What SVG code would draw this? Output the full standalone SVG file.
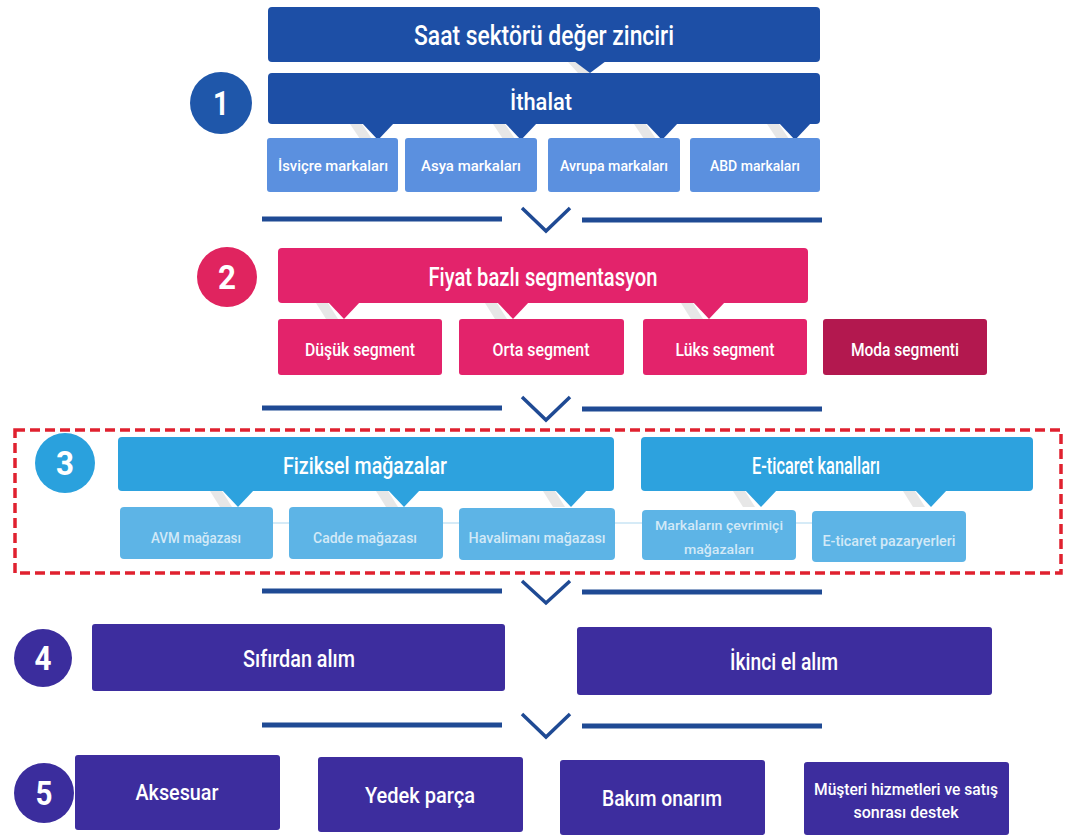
<svg xmlns="http://www.w3.org/2000/svg" width="1065" height="838" viewBox="0 0 1065 838">
<defs>
<style>
text{font-family:"Roboto","Liberation Sans",sans-serif;fill:#fff;text-anchor:middle;font-weight:500}
.navy{fill:#1d4fa6}
.b1{fill:#5b90df}
.pink{fill:#e3236b}
.moda{fill:#b3184f}
.lb{fill:#2da2de}
.lb2{fill:#5db4e6}
.ind{fill:#3d2d9e}
.sh{fill:#b9b9b9;opacity:.35}
.sep{stroke:#1f4a94;stroke-width:5;fill:none}
.chev{stroke:#1f4a94;stroke-width:3.5;fill:none}
.num{font-size:34px;font-weight:700}
.faint{fill:#d2e9f7}
</style>
</defs>
<rect width="1065" height="838" fill="#fff"/>

<g id="connectors">
<path class="sh" d="M568 62 L580 62 L590 73 L578 73 Z"/>
<polygon class="navy" points="574,61 606,61 590,73"/>
<path class="sh" d="M350 124 L362 124 L372 139 L360 139 Z"/>
<polygon class="navy" points="362,123 394,123 378,140"/>
<path class="sh" d="M493 124 L505 124 L515 139 L503 139 Z"/>
<polygon class="navy" points="505,123 537,123 521,140"/>
<path class="sh" d="M634 124 L646 124 L656 139 L644 139 Z"/>
<polygon class="navy" points="646,123 678,123 662,140"/>
<path class="sh" d="M767 124 L779 124 L789 139 L777 139 Z"/>
<polygon class="navy" points="779,123 811,123 795,140"/>
<path class="sh" d="M316 303 L328 303 L338 319 L326 319 Z"/>
<polygon class="pink" points="328,302 360,302 344,319"/>
<path class="sh" d="M485 303 L497 303 L507 319 L495 319 Z"/>
<polygon class="pink" points="497,302 529,302 513,319"/>
<path class="sh" d="M681 303 L693 303 L703 319 L691 319 Z"/>
<polygon class="pink" points="693,302 725,302 709,319"/>
<path class="sh" d="M210 491 L222 491 L232 507 L220 507 Z"/>
<polygon class="lb" points="222,490 254,490 238,507"/>
<path class="sh" d="M376 491 L388 491 L398 507 L386 507 Z"/>
<polygon class="lb" points="388,490 420,490 404,507"/>
<path class="sh" d="M543 491 L555 491 L565 507 L553 507 Z"/>
<polygon class="lb" points="555,490 587,490 571,507"/>
<path class="sh" d="M733 491 L745 491 L755 507 L743 507 Z"/>
<polygon class="lb" points="745,490 777,490 761,507"/>
<path class="sh" d="M903 491 L915 491 L925 507 L913 507 Z"/>
<polygon class="lb" points="915,490 947,490 931,507"/>
<line x1="122" y1="523" x2="965" y2="523" stroke="#c9e4f4" stroke-width="1.5"/>
<line class="sep" x1="262" y1="219" x2="502" y2="219"/>
<polyline class="chev" points="522,208 546,231 570,208"/>
<line class="sep" x1="582" y1="220" x2="822" y2="220"/>
<line class="sep" x1="262" y1="408" x2="502" y2="408"/>
<polyline class="chev" points="522,397 546,420 570,397"/>
<line class="sep" x1="582" y1="409" x2="822" y2="409"/>
<line class="sep" x1="262" y1="591" x2="502" y2="591"/>
<polyline class="chev" points="522,581 546,603 570,581"/>
<line class="sep" x1="582" y1="592" x2="822" y2="592"/>
<line class="sep" x1="262" y1="725" x2="502" y2="725"/>
<polyline class="chev" points="522,714 546,737 570,714"/>
<line class="sep" x1="582" y1="726" x2="822" y2="726"/>
</g>

<g id="header"><rect class="navy" x="268" y="7" width="552" height="55" rx="4"/><text x="544" y="45" font-size="28" textLength="260" lengthAdjust="spacingAndGlyphs">Saat sektörü değer zinciri</text></g>

<g id="step1"><circle cx="221" cy="103" r="31" fill="#1f57aa"/><text class="num" x="221" y="115" textLength="16" lengthAdjust="spacingAndGlyphs">1</text></g>
<g id="ithalat"><rect class="navy" x="268" y="73" width="552" height="51" rx="4"/><text x="541" y="110" font-size="24" textLength="62" lengthAdjust="spacingAndGlyphs">İthalat</text></g>
<g id="isvicre"><rect class="b1" x="267" y="138" width="131" height="54" rx="3"/><text x="333" y="171" font-size="15" textLength="110" lengthAdjust="spacingAndGlyphs">İsviçre markaları</text></g>
<g id="asya"><rect class="b1" x="405" y="138" width="132" height="54" rx="3"/><text x="471" y="171" font-size="15" textLength="100" lengthAdjust="spacingAndGlyphs">Asya markaları</text></g>
<g id="avrupa"><rect class="b1" x="548" y="138" width="132" height="54" rx="3"/><text x="614" y="171" font-size="15" textLength="108" lengthAdjust="spacingAndGlyphs">Avrupa markaları</text></g>
<g id="abd"><rect class="b1" x="690" y="138" width="130" height="54" rx="3"/><text x="755" y="171" font-size="15" textLength="90" lengthAdjust="spacingAndGlyphs">ABD markaları</text></g>

<g id="step2"><circle cx="227" cy="277" r="30" fill="#e0245f"/><text class="num" x="227" y="289" textLength="18" lengthAdjust="spacingAndGlyphs">2</text></g>
<g id="fiyat"><rect class="pink" x="278" y="248" width="530" height="55" rx="4"/><text x="543" y="286" font-size="26" textLength="229" lengthAdjust="spacingAndGlyphs">Fiyat bazlı segmentasyon</text></g>
<g id="dusuk"><rect class="pink" x="278" y="319" width="164" height="56" rx="3"/><text x="360" y="356" font-size="18" textLength="110" lengthAdjust="spacingAndGlyphs">Düşük segment</text></g>
<g id="orta"><rect class="pink" x="459" y="319" width="165" height="56" rx="3"/><text x="541" y="356" font-size="18" textLength="97" lengthAdjust="spacingAndGlyphs">Orta segment</text></g>
<g id="luks"><rect class="pink" x="643" y="319" width="164" height="56" rx="3"/><text x="725" y="356" font-size="18" textLength="99" lengthAdjust="spacingAndGlyphs">Lüks segment</text></g>
<g id="moda"><rect class="moda" x="823" y="319" width="164" height="56" rx="3"/><text x="905" y="356" font-size="18" textLength="108" lengthAdjust="spacingAndGlyphs">Moda segmenti</text></g>

<g id="highlight"><rect x="15" y="430" width="1046" height="143" fill="none" stroke="#e0212f" stroke-width="3.5" stroke-dasharray="10,5"/></g>
<g id="step3"><circle cx="65" cy="463" r="30" fill="#2aa1dd"/><text class="num" x="65" y="475" textLength="18" lengthAdjust="spacingAndGlyphs">3</text></g>
<g id="fiziksel"><rect class="lb" x="118" y="437" width="496" height="54" rx="4"/><text x="365" y="474" font-size="24" textLength="164" lengthAdjust="spacingAndGlyphs">Fiziksel mağazalar</text></g>
<g id="eticaret"><rect class="lb" x="641" y="437" width="392" height="54" rx="4"/><text x="816" y="474" font-size="24" textLength="128" lengthAdjust="spacingAndGlyphs">E-ticaret kanalları</text></g>
<g id="avm"><rect class="lb2" x="120" y="507" width="153" height="52" rx="4"/><text class="faint" x="196" y="543" font-size="14" textLength="90" lengthAdjust="spacingAndGlyphs">AVM mağazası</text></g>
<g id="cadde"><rect class="lb2" x="289" y="507" width="154" height="52" rx="4"/><text class="faint" x="365" y="543" font-size="14" textLength="104" lengthAdjust="spacingAndGlyphs">Cadde mağazası</text></g>
<g id="havalimani"><rect class="lb2" x="459" y="508" width="156" height="52" rx="4"/><text class="faint" x="537" y="543" font-size="14" textLength="137" lengthAdjust="spacingAndGlyphs">Havalimanı mağazası</text></g>
<g id="cevrimici"><rect class="lb2" x="642" y="510" width="154" height="50" rx="4"/><text class="faint" x="719" y="530" font-size="13" textLength="128" lengthAdjust="spacingAndGlyphs">Markaların çevrimiçi</text><text class="faint" x="719" y="554" font-size="13" textLength="70" lengthAdjust="spacingAndGlyphs">mağazaları</text></g>
<g id="pazaryerleri"><rect class="lb2" x="812" y="511" width="154" height="51" rx="4"/><text class="faint" x="889" y="546" font-size="14" textLength="133" lengthAdjust="spacingAndGlyphs">E-ticaret pazaryerleri</text></g>

<g id="step4"><circle cx="43" cy="658" r="29" fill="#3b2d9d"/><text class="num" x="43" y="670" textLength="17" lengthAdjust="spacingAndGlyphs">4</text></g>
<g id="sifirdan"><rect class="ind" x="92" y="624" width="413" height="67" rx="3"/><text x="299" y="667" font-size="24" textLength="112" lengthAdjust="spacingAndGlyphs">Sıfırdan alım</text></g>
<g id="ikinci"><rect class="ind" x="577" y="627" width="415" height="68" rx="3"/><text x="784" y="670" font-size="24" textLength="108" lengthAdjust="spacingAndGlyphs">İkinci el alım</text></g>

<g id="step5"><circle cx="44" cy="793" r="30" fill="#3b2d9d"/><text class="num" x="44" y="805" textLength="17" lengthAdjust="spacingAndGlyphs">5</text></g>
<g id="aksesuar"><rect class="ind" x="75" y="755" width="205" height="75" rx="3"/><text x="177" y="800" font-size="22" textLength="83" lengthAdjust="spacingAndGlyphs">Aksesuar</text></g>
<g id="yedek"><rect class="ind" x="318" y="757" width="205" height="75" rx="3"/><text x="420" y="803" font-size="22" textLength="110" lengthAdjust="spacingAndGlyphs">Yedek parça</text></g>
<g id="bakim"><rect class="ind" x="560" y="760" width="205" height="75" rx="3"/><text x="662" y="806" font-size="22" textLength="120" lengthAdjust="spacingAndGlyphs">Bakım onarım</text></g>
<g id="musteri"><rect class="ind" x="804" y="762" width="205" height="73" rx="3"/><text x="906" y="795" font-size="16" textLength="184" lengthAdjust="spacingAndGlyphs">Müşteri hizmetleri ve satış</text><text x="906" y="818" font-size="16" textLength="105" lengthAdjust="spacingAndGlyphs">sonrası destek</text></g>
</svg>
